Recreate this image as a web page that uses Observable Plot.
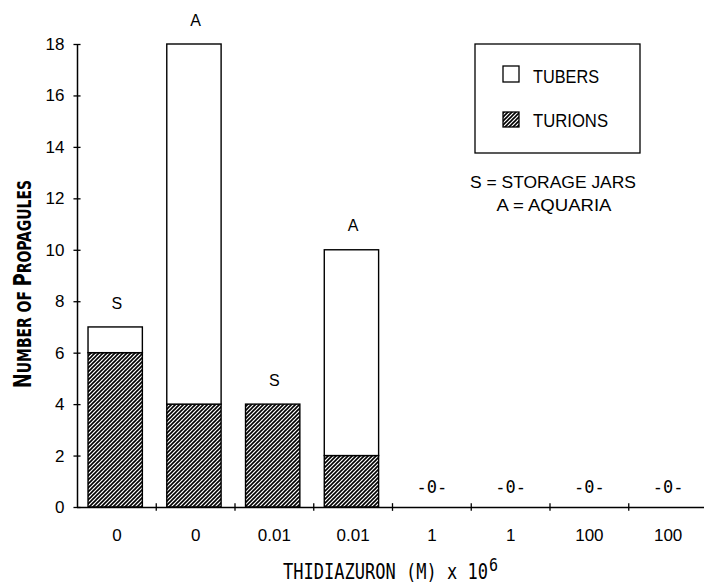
<!DOCTYPE html>
<html><head><meta charset="utf-8">
<script src="https://cdn.jsdelivr.net/npm/d3@7"></script>
<script src="https://cdn.jsdelivr.net/npm/@observablehq/plot@0.6"></script>
<style>body{margin:0;background:#fff}</style>
</head><body><div id="chart"></div>
<script>
const categories = ["0","0","0.01","0.01","1","1","100","100"];
const turions = [6,4,4,2,0,0,0,0];
const tubers = [1,14,0,8,0,0,0,0];
const site = ["S","A","S","A","","","",""];
const yTicks = [0,2,4,6,8,10,12,14,16,18];

const data = categories.map((c,i)=>({i, c, turions:turions[i], tubers:tubers[i], total:turions[i]+tubers[i], site:site[i]}));
const lightFont = "Liberation Sans, Arial, sans-serif";
const monoFont = "DejaVu Sans Mono, monospace";

const plot = Plot.plot({
  width: 704, height: 584,
  marginLeft: 77, marginRight: 0, marginTop: 44, marginBottom: 77,
  x: {domain:[0,8], range:[77,707], axis:null},
  y: {domain:[0,18], axis:null},
  style: {background:"#fff", color:"#000"},
  marks: [
    Plot.rectY(data, {x1:d=>d.i+0.14, x2:d=>d.i+0.83, y1:0, y2:"turions", filter:d=>d.turions>0, fill:"url(#hatch)", stroke:"#000", strokeWidth:1.4}),
    Plot.rectY(data, {x1:d=>d.i+0.14, x2:d=>d.i+0.83, y1:"turions", y2:"total", filter:d=>d.tubers>0, fill:"#fff", stroke:"#000", strokeWidth:1.4}),
    Plot.ruleX([0], {y1:0, y2:18, stroke:"#000", strokeWidth:1.5}),
    Plot.ruleY([0], {x1:0, x2:8, stroke:"#000", strokeWidth:1.5}),
    Plot.ruleY(yTicks, {x1:-0.045, x2:0.045, stroke:"#000", strokeWidth:1.3}),
    Plot.ruleX(d3.range(1,8), {y1:-0.15, y2:0.15, stroke:"#000", strokeWidth:1.3}),
    Plot.text(yTicks, {x:0, y:d=>d, text:d=>String(d), textAnchor:"end", dx:-13, fontSize:17, fontFamily:lightFont}),
    Plot.text(data, {x:d=>d.i+0.5, y:0, text:"c", dy:28, fontSize:17, fontFamily:lightFont}),
    Plot.text(data.filter(d=>d.site), {x:d=>d.i+0.5, y:"total", text:"site", dy:-24, fontSize:16, fontFamily:lightFont}),
    Plot.text(data.filter(d=>d.total===0), {x:d=>d.i+0.5, y:0, text:()=>"-0-", dy:-20, fontSize:17, fontFamily:monoFont})
  ]
});

const svg = d3.select(plot);
const defs = svg.insert("defs", ":first-child");
const pat = defs.append("pattern").attr("id","hatch").attr("patternUnits","userSpaceOnUse").attr("width",4).attr("height",4);
pat.append("rect").attr("width",4).attr("height",4).attr("fill","#fff");
pat.append("path").attr("d","M-1,1 L1,-1 M0,4 L4,0 M3,5 L5,3").attr("stroke","#000").attr("stroke-width",1.6);

// y-axis title (small caps)
const yt = svg.append("text").attr("transform","translate(31,284) rotate(-90)").attr("text-anchor","middle")
  .attr("font-family","DejaVu Sans Condensed, sans-serif").attr("font-weight","bold").attr("fill","#000")
  .attr("textLength",208).attr("lengthAdjust","spacingAndGlyphs");
yt.append("tspan").attr("font-size",24).text("N");
yt.append("tspan").attr("font-size",19).text("UMBER OF ");
yt.append("tspan").attr("font-size",24).text("P");
yt.append("tspan").attr("font-size",19).text("ROPAGULES");

// x-axis title
const xt = svg.append("g").attr("transform","translate(0,579) scale(1,1.18)");
const xtt = xt.append("text").attr("x",283).attr("y",0).attr("text-anchor","start")
  .attr("font-family",monoFont).attr("font-size",17.5).attr("fill","#000");
xtt.append("tspan").attr("textLength",205).attr("lengthAdjust","spacingAndGlyphs").text("THIDIAZURON (M) x 10");
xtt.append("tspan").attr("x",489).attr("dy",-7).attr("font-size",15).text("6");

// legend
const lg = svg.append("g").attr("text-anchor","start").attr("fill","#000");
lg.append("rect").attr("x",475).attr("y",44).attr("width",165).attr("height",109).attr("fill","#fff").attr("stroke","#000").attr("stroke-width",1.3);
lg.append("rect").attr("x",503).attr("y",66).attr("width",16).attr("height",16).attr("fill","#fff").attr("stroke","#000").attr("stroke-width",1.3);
lg.append("rect").attr("x",503).attr("y",112).attr("width",16).attr("height",15).attr("fill","url(#hatch)").attr("stroke","#000").attr("stroke-width",1.3);
lg.append("text").attr("x",533).attr("y",83).attr("font-family",lightFont).attr("font-size",18).attr("textLength",66).attr("lengthAdjust","spacingAndGlyphs").text("TUBERS");
lg.append("text").attr("x",533).attr("y",127).attr("font-family",lightFont).attr("font-size",18).attr("textLength",75).attr("lengthAdjust","spacingAndGlyphs").text("TURIONS");
lg.append("text").attr("x",553).attr("y",188).attr("text-anchor","middle").attr("font-family",lightFont).attr("font-size",16).attr("textLength",166).attr("lengthAdjust","spacingAndGlyphs").text("S = STORAGE JARS");
lg.append("text").attr("x",554).attr("y",211).attr("text-anchor","middle").attr("font-family",lightFont).attr("font-size",16).attr("textLength",115).attr("lengthAdjust","spacingAndGlyphs").text("A = AQUARIA");

document.getElementById("chart").appendChild(plot);
</script></body></html>
